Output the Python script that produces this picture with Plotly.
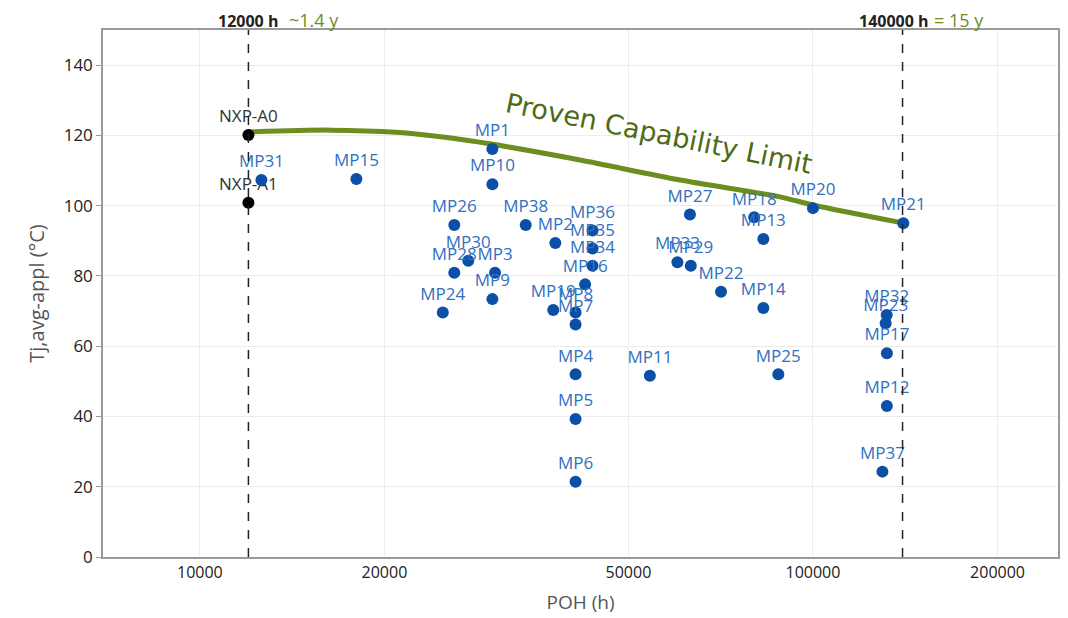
import math
import plotly.graph_objects as go

# ---- data ----
mp_names = ["MP1", "MP2", "MP3", "MP4", "MP5", "MP6", "MP7", "MP8", "MP9", "MP10",
            "MP11", "MP12", "MP13", "MP14", "MP15", "MP16", "MP17", "MP18", "MP19", "MP20",
            "MP21", "MP22", "MP23", "MP24", "MP25", "MP26", "MP27", "MP28", "MP29", "MP30",
            "MP31", "MP32", "MP33", "MP34", "MP35", "MP36", "MP37", "MP38"]
mp_poh = [30000, 38000, 30300, 41000, 41000, 41000, 41000, 41000, 30000, 30000,
          54200, 132000, 83000, 83000, 18000, 42500, 132000, 80200, 37700, 100000,
          140400, 70800, 131400, 24900, 87800, 26000, 63000, 26000, 63200, 27400,
          12600, 131900, 60100, 43700, 43700, 43700, 129800, 34000]
mp_tj = [116.1, 89.4, 80.9, 52.0, 39.3, 21.4, 66.2, 69.6, 73.4, 106.1,
         51.6, 43.0, 90.5, 70.9, 107.6, 77.6, 58.0, 96.7, 70.3, 99.3,
         95.0, 75.5, 66.5, 69.6, 52.0, 94.5, 97.5, 80.9, 82.9, 84.3,
         107.3, 68.9, 83.9, 82.9, 87.8, 92.9, 24.3, 94.5]

nxp_names = ["NXP-A0", "NXP-A1"]
nxp_poh = [12000, 12000]
nxp_tj = [120.1, 100.8]

limit_poh = [12000, 16300, 20900, 25300, 29700, 41700, 60700, 88300, 100000, 140000]
limit_tj = [121.0, 121.5, 120.9, 119.4, 117.6, 113.0, 107.3, 102.5, 100.2, 95.1]

ref_hours = [12000, 140000]
ref_hours_text = ["12000 h", "140000 h"]
ref_years_text = ["~1.4 y", "= 15 y"]

x_tick_vals = [10000, 20000, 50000, 100000, 200000]
x_tick_text = ["10000", "20000", "50000", "100000", "200000"]
y_tick_vals = [0, 20, 40, 60, 80, 100, 120, 140]

OLIVE = "#6b8e1f"
OLIVE_TXT = "#4f6a14"
BLUE_M = "#0b4fa6"
BLUE_T = "#3270c0"
FONT = "Open Sans"

fig = go.Figure()

fig.add_trace(go.Scatter(
    x=limit_poh, y=limit_tj, mode="lines",
    line=dict(color=OLIVE, width=5, shape="spline", smoothing=0.8),
    hoverinfo="skip", showlegend=False))

fig.add_trace(go.Scatter(
    x=nxp_poh, y=nxp_tj, mode="markers+text", text=nxp_names,
    textposition="top center",
    textfont=dict(family=FONT, size=17, color="#333333"),
    marker=dict(color="black", size=12),
    showlegend=False))

fig.add_trace(go.Scatter(
    x=mp_poh, y=mp_tj, mode="markers+text", text=mp_names,
    textposition="top center",
    textfont=dict(family=FONT, size=17, color=BLUE_T),
    marker=dict(color=BLUE_M, size=12),
    showlegend=False))

for h in ref_hours:
    fig.add_shape(type="line", xref="x", yref="paper", x0=h, x1=h, y0=0, y1=1,
                  line=dict(color="#222222", width=1.5, dash="dash"), layer="above")

# header annotations
fig.add_annotation(x=math.log10(ref_hours[0]), y=1, xref="x", yref="paper",
                   yanchor="bottom", xanchor="center", showarrow=False, yshift=-3,
                   text="<b>" + ref_hours_text[0] + "</b>", borderpad=0,
                   font=dict(family=FONT, size=16, color="#222222"))
fig.add_annotation(x=math.log10(ref_hours[0]), y=1, xref="x", yref="paper",
                   yanchor="bottom", xanchor="left", showarrow=False, xshift=40, yshift=-3,
                   text=ref_years_text[0], borderpad=0,
                   font=dict(family=FONT, size=18, color=OLIVE))
fig.add_annotation(x=math.log10(ref_hours[1]), y=1, xref="x", yref="paper",
                   yanchor="bottom", xanchor="right", showarrow=False, xshift=27, yshift=-3,
                   text="<b>" + ref_hours_text[1] + "</b>", borderpad=0,
                   font=dict(family=FONT, size=16, color="#222222"))
fig.add_annotation(x=math.log10(ref_hours[1]), y=1, xref="x", yref="paper",
                   yanchor="bottom", xanchor="left", showarrow=False, xshift=30, yshift=-3,
                   text=ref_years_text[1], borderpad=0,
                   font=dict(family=FONT, size=18, color=OLIVE))

fig.add_annotation(x=math.log10(56000), y=120.5, xref="x", yref="y",
                   showarrow=False, textangle=11.5,
                   text="Proven Capability Limit",
                   font=dict(family="DejaVu Sans", size=27, color=OLIVE_TXT))

# the page body has an 8px default margin; margins compensate for it
fig.update_layout(
    width=1068, height=618,
    margin=dict(l=95, r=18, t=22, b=69),
    paper_bgcolor="white", plot_bgcolor="white",
    font=dict(family=FONT, color="#333333"),
    xaxis=dict(type="log", range=[math.log10(6950), math.log10(251000)],
               tickvals=x_tick_vals, ticktext=x_tick_text,
               tickfont=dict(family=FONT, size=16, color="#222222"),
               showgrid=True, gridcolor="#ececec", automargin=False,
               showline=True, linecolor="#9a9a9a", linewidth=1.5, mirror=True,
               ticks="", zeroline=False,
               title=dict(text="POH (h)", font=dict(family=FONT, size=19, color="#555555"),
                          standoff=14)),
    yaxis=dict(range=[0, 150], tickvals=y_tick_vals,
               tickfont=dict(family=FONT, size=17, color="#222222"),
               showgrid=True, gridcolor="#ececec", automargin=False,
               showline=True, linecolor="#9a9a9a", linewidth=1.5, mirror=True,
               ticks="outside", ticklen=5, tickcolor="#9a9a9a", zeroline=False,
               title=dict(text="Tj,avg-appl (°C)", font=dict(family=FONT, size=20, color="#555555"),
                          standoff=14)),
)

fig.write_html("out.html")
